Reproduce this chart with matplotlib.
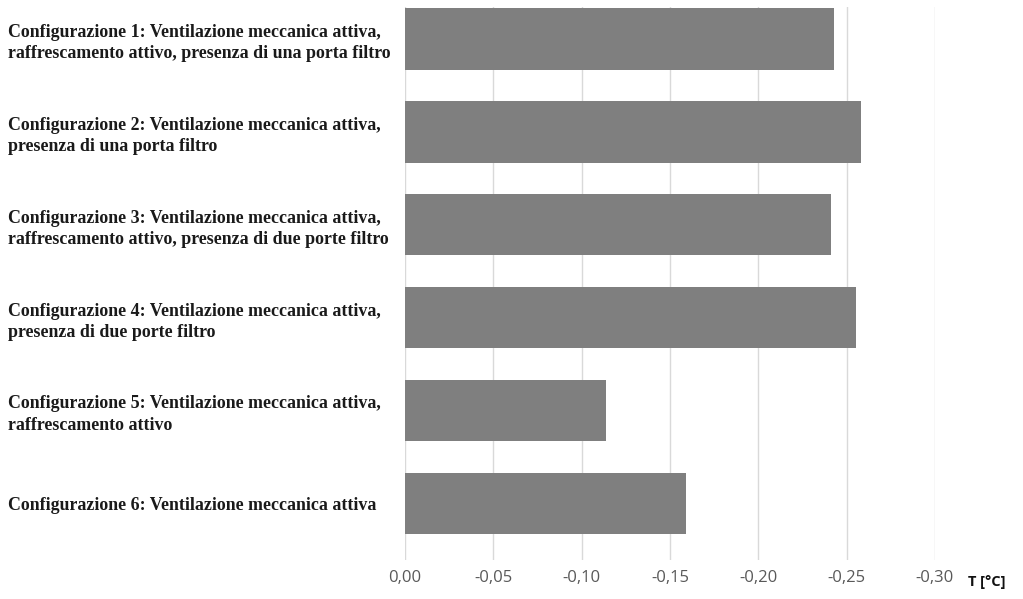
import matplotlib
matplotlib.use("Agg")
import matplotlib.pyplot as plt

# Data
categories = [
    "Configurazione 1: Ventilazione meccanica attiva,\nraffrescamento attivo, presenza di una porta filtro",
    "Configurazione 2: Ventilazione meccanica attiva,\npresenza di una porta filtro",
    "Configurazione 3: Ventilazione meccanica attiva,\nraffrescamento attivo, presenza di due porte filtro",
    "Configurazione 4: Ventilazione meccanica attiva,\npresenza di due porte filtro",
    "Configurazione 5: Ventilazione meccanica attiva,\nraffrescamento attivo",
    "Configurazione 6: Ventilazione meccanica attiva",
]
delta_t = [-0.243, -0.258, -0.241, -0.255, -0.114, -0.159]
x_ticks = [0.0, -0.05, -0.10, -0.15, -0.20, -0.25, -0.30]
x_ticklabels = ["0,00", "-0,05", "-0,10", "-0,15", "-0,20", "-0,25", "-0,30"]
axis_title = "T [°C]"

W, H = 1023, 599
fig = plt.figure(figsize=(W / 100, H / 100), dpi=100)
ax_left, ax_right, ax_top, ax_bottom = 405, 935, 7, 560
ax = fig.add_axes([ax_left / W, 1 - ax_bottom / H,
                   (ax_right - ax_left) / W, (ax_bottom - ax_top) / H])

pos = list(range(len(categories)))
ax.barh(pos, delta_t, height=0.66, color="#7f7f7f", edgecolor="none", zorder=3)

ax.set_xlim(0, -0.30)
ax.set_ylim(5.61, -0.345)

ax.set_xticks(x_ticks)
ax.set_xticklabels(x_ticklabels, family="Open Sans", fontsize=12, color="#595959")
ax.tick_params(axis="x", length=0, pad=7)

ax.set_yticks(pos)
ax.set_yticklabels(categories, family="Liberation Serif", fontweight="bold",
                   fontsize=12.9, color="#1a1a1a", ha="left", linespacing=1.33)
label_pad_pt = (ax_left - 8) * 72 / 100
ax.tick_params(axis="y", length=0, pad=label_pad_pt)

ax.grid(axis="x", color="#d9d9d9", linewidth=1.0, zorder=0)
ax.grid(axis="y", visible=False)
for s in ax.spines.values():
    s.set_visible(False)

fig.text(987 / W, 1 - 582 / H, axis_title, family="Open Sans", fontweight="bold",
         fontsize=10.5, ha="center", va="center", color="#111111")

fig.savefig("out.png", dpi=100, facecolor="white")
